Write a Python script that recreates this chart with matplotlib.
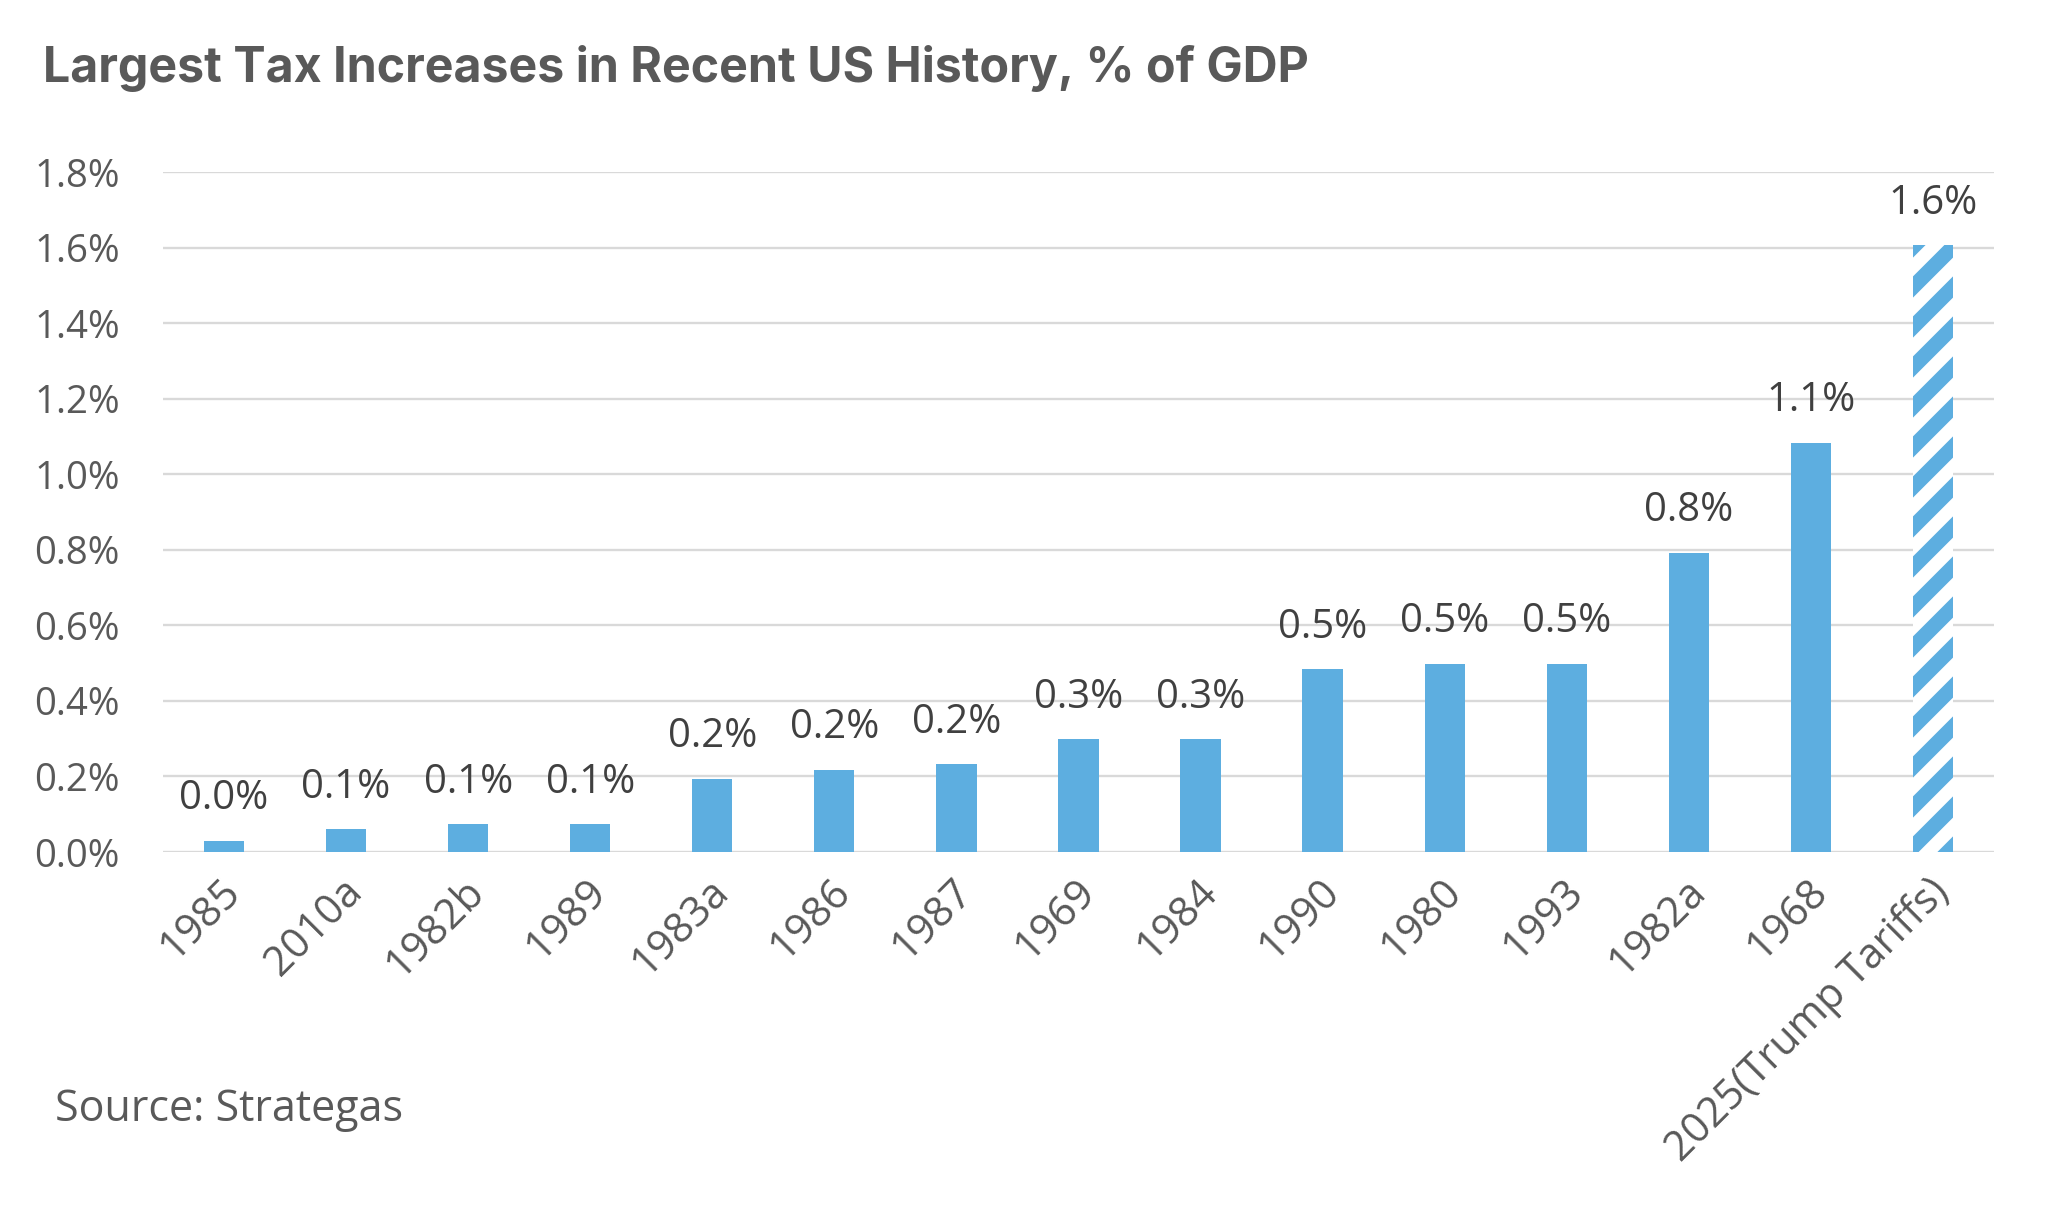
import matplotlib
matplotlib.use("Agg")
import matplotlib.pyplot as plt
from matplotlib.ticker import FuncFormatter
from matplotlib.transforms import ScaledTranslation

# data
years = ["1985", "2010a", "1982b", "1989", "1983a", "1986", "1987", "1969",
         "1984", "1990", "1980", "1993", "1982a", "1968", "2025(Trump Tariffs)"]
pct_gdp = [0.03, 0.06, 0.073, 0.073, 0.194, 0.218, 0.232, 0.298,
           0.298, 0.484, 0.498, 0.498, 0.792, 1.083, 1.606]
projected = [False] * 14 + [True]

blue = "#5DAEE0"
grey_txt = "#595959"
lbl_txt = "#404040"

plt.rcParams["font.family"] = ["Open Sans", "DejaVu Sans"]
plt.rcParams["hatch.linewidth"] = 4.5

DPI = 240
fig = plt.figure(figsize=(2048 / DPI, 1221 / DPI), dpi=DPI)
ax = fig.add_axes([0.0796, 0.3022, 0.894, 0.5569])

x = range(len(years))
for i in x:
    if projected[i]:
        ax.bar(i, pct_gdp[i], width=0.33, facecolor="white", edgecolor=blue,
               hatch="//", linewidth=0, zorder=2)
    else:
        ax.bar(i, pct_gdp[i], width=0.33, color=blue, linewidth=0, zorder=2)
    ax.annotate(f"{pct_gdp[i]:.1f}%", (i, pct_gdp[i]), xytext=(0, 12.5),
                textcoords="offset points", ha="center", va="center",
                fontsize=12, color=lbl_txt)

ax.set_xlim(-0.5, len(years) - 0.5)
ax.set_ylim(0, 1.8)
ax.set_yticks([i * 0.2 for i in range(10)])
ax.yaxis.set_major_formatter(FuncFormatter(lambda v, p: f"{v:.1f}%"))
ax.yaxis.grid(True, color="#d9d9d9", linewidth=0.7)
ax.set_axisbelow(True)
for s in ax.spines.values():
    s.set_visible(False)
ax.tick_params(axis="y", length=0, pad=13, labelsize=11.5, labelcolor=grey_txt)
ax.tick_params(axis="x", length=0, pad=10, labelsize=12.5, labelcolor=grey_txt)
ax.set_xticks(list(x))
ax.set_xticklabels(years, rotation=45, ha="right", va="center",
                   rotation_mode="anchor")
shift = ScaledTranslation(10 / DPI, 0, fig.dpi_scale_trans)
for lbl in ax.get_xticklabels():
    lbl.set_transform(lbl.get_transform() + shift)

fig.text(0.021, 0.9328, "Largest Tax Increases in Recent US History, % of GDP",
         fontsize=14.5, fontweight="bold", color=grey_txt, family=["Inter", "DejaVu Sans"],
         ha="left", va="baseline")
fig.text(0.0269, 0.0821, "Source: Strategas", fontsize=12.9, color=grey_txt,
         ha="left", va="baseline")

fig.savefig("out.png", dpi=DPI)
